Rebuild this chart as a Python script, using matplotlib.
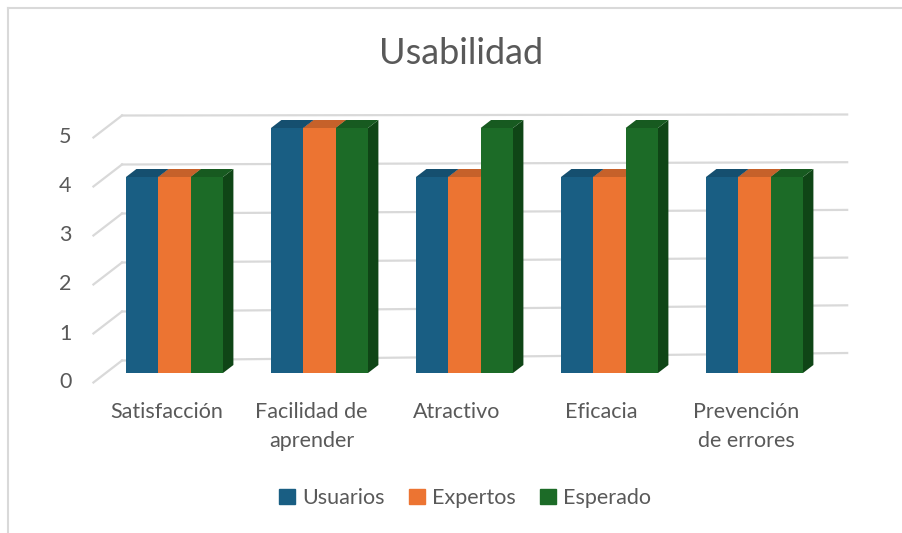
import matplotlib
matplotlib.use("Agg")
import matplotlib.pyplot as plt
from matplotlib.patches import Polygon, Rectangle
from matplotlib.lines import Line2D
import matplotlib.transforms as mtransforms

# ---------------- data ----------------
categories = ["Satisfacción", "Facilidad de\naprender", "Atractivo", "Eficacia", "Prevención\nde errores"]
series_names = ["Usuarios", "Expertos", "Esperado"]
usuarios = [4, 5, 4, 4, 4]
expertos = [4, 5, 4, 4, 4]
esperado = [4, 5, 5, 5, 4]
yticks = [0, 1, 2, 3, 4, 5]
title = "Usabilidad"

# ---------------- style ----------------
front_cols = ["#195e83", "#ec7432", "#1c6b27"]
top_cols = ["#154f6f", "#c6612a", "#175a20"]
side_cols = ["#10405a", "#a44f22", "#0f4516"]
grid_col = "#d9d9d9"
text_col = "#595959"
FONT = "Lato"

W, H = 902, 533
DPI = 100
fig = plt.figure(figsize=(W / DPI, H / DPI), dpi=DPI)
fig.patch.set_facecolor("white")

# pixel geometry of the oblique "3-D" view
PX_CAT = 145.0      # px per category
X0 = 174.5          # px of category 0 centre on bar front plane
Y0 = 373.0          # px of value 0 on bar front plane
S = 49.0            # px per value unit
DX, DY = 1.3, 1.0   # depth direction (px right / px up per depth unit)

ax = fig.add_axes([0, 0, 1, 1])
ax.set_xlim((0 - X0) / PX_CAT, (W - X0) / PX_CAT)
ax.set_ylim((Y0 - H) / S, Y0 / S)
ax.axis("off")


def P(x, v, d=0.0, tilt=0.0):
    """category x, value v, depth d (px) -> data coords"""
    return (x + d * DX / PX_CAT, v + (d * DY + tilt) / S)


n_cat = len(categories)
group_w = 0.669
bar_w = group_w / 3
bar_depth = 8.0
wall_d = 12.5
floor_d = -9.5
wall_left = -0.474
wall_right = n_cat - 1 + 0.527

# back wall grid lines + left diagonals
for v in yticks:
    tilt_r = 7.5 - 1.3 * v
    xa, ya = P(wall_left, v, wall_d)
    xb, yb = P(wall_right, v, wall_d, tilt_r)
    ax.add_line(Line2D([xa, xb], [ya, yb], color=grid_col, lw=1.6, zorder=1))
    xf, yf = P(wall_left, v, floor_d)
    ax.add_line(Line2D([xf, xa], [yf, ya], color=grid_col, lw=1.6, zorder=1))
    ax.text(xf - 0.195, yf, str(v), ha="center", va="center",
            fontsize=15.5, color=text_col, family=FONT)

# bars
all_vals = [usuarios, expertos, esperado]
z = 2
for i in range(n_cat):
    for j, vals in enumerate(all_vals):
        left = i - group_w / 2 + j * bar_w
        h = vals[i]
        right = left + bar_w
        side = Polygon([P(right, 0), P(right, 0, bar_depth), P(right, h, bar_depth), P(right, h)],
                       closed=True, facecolor=side_cols[j], edgecolor="none", zorder=z)
        ax.add_patch(side)
        top = Polygon([P(left, h), P(right, h), P(right, h, bar_depth), P(left, h, bar_depth)],
                      closed=True, facecolor=top_cols[j], edgecolor="none", zorder=z)
        ax.add_patch(top)
        ax.bar(left, h, width=bar_w, align="edge", color=front_cols[j],
               edgecolor="none", zorder=z + 0.5)
        z += 1

# category labels
off = mtransforms.offset_copy(ax.transData, fig=fig, x=-8, y=0, units="dots")
for i, c in enumerate(categories):
    xl, yl = P(i, 0, floor_d)
    ax.text(i, yl - 20 / S, c, ha="center", va="top", fontsize=15.5, color=text_col,
            family=FONT, linespacing=1.55, transform=off)

# title
fig.text(461 / W, 1 - 53 / H, title, ha="center", va="center", fontsize=26,
         color=text_col, family=FONT)

# legend
leg = fig.legend([Rectangle((0, 0), 1, 1, color=c) for c in front_cols], series_names,
                 loc="center", bbox_to_anchor=(465 / W, 1 - 498 / H), ncol=3,
                 frameon=False, handlelength=0.75, handleheight=0.75, handletextpad=0.3,
                 columnspacing=1.15, prop={"family": FONT, "size": 15.5})
for t in leg.get_texts():
    t.set_color(text_col)

# chart border (left and top edges visible)
fig.add_artist(Line2D([8 / W, 8 / W], [0, 1 - 8 / H], color=grid_col, lw=1.5,
                      transform=fig.transFigure))
fig.add_artist(Line2D([8 / W, 1], [1 - 8 / H, 1 - 8 / H], color=grid_col, lw=1.5,
                      transform=fig.transFigure))

fig.savefig("out.png", dpi=DPI, facecolor="white")
